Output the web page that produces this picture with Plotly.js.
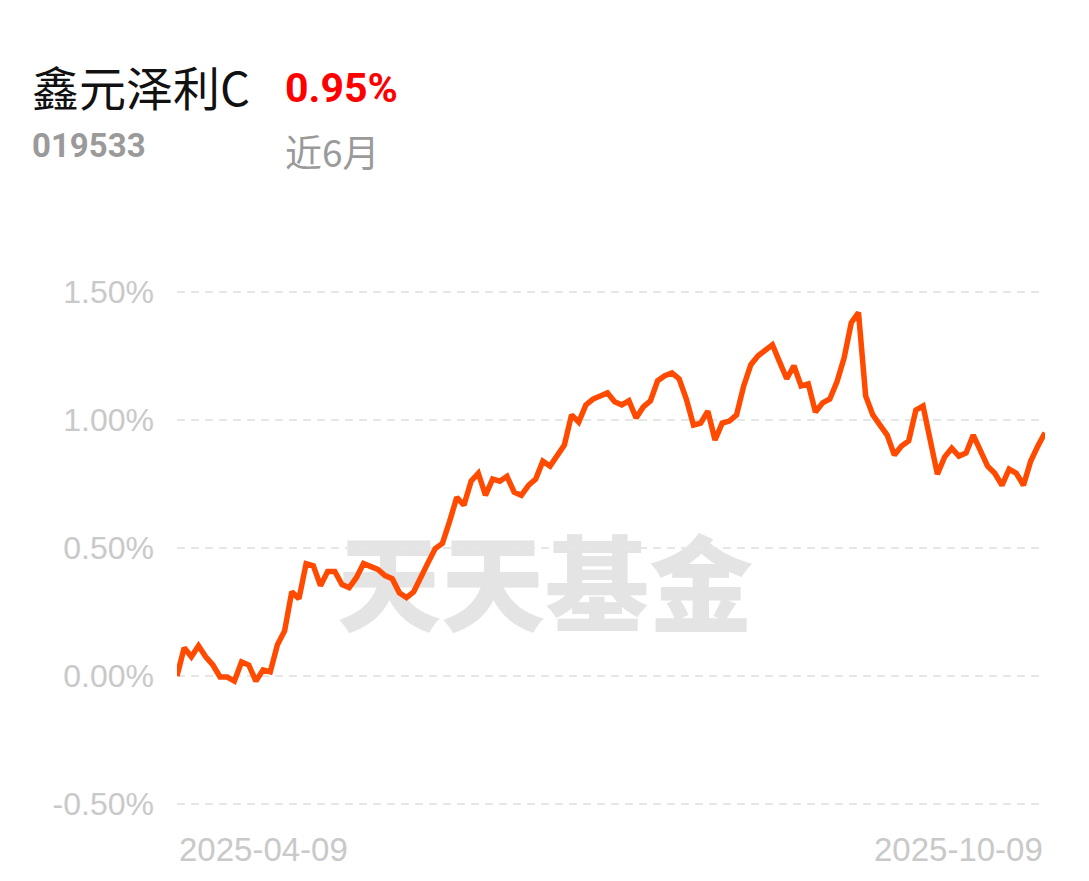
<!DOCTYPE html>
<html>
<head>
<meta charset="utf-8">
<script src="https://cdn.plot.ly/plotly-3.0.1.min.js"></script>
<style>
  html, body { margin: 0; padding: 0; background: #ffffff; }
  #chart { width: 1089px; height: 881px; }
</style>
</head>
<body>
<div id="chart"></div>
<script>
// ---- data ----
const fundName = "鑫元泽利C";
const fundCode = "019533";
const periodLabel = "近6月";
const periodReturn = "0.95%";
const startDate = "2025-04-09";
const endDate = "2025-10-09";
const watermark = "天天基金";

// cumulative return (%) per trading day
const returns = [
  0.00, 0.110, 0.075, 0.118, 0.075, 0.043, -0.004, -0.004, -0.020, 0.055,
  0.043, -0.020, 0.024, 0.016, 0.122, 0.176, 0.329, 0.302, 0.439, 0.431,
  0.353, 0.408, 0.408, 0.357, 0.345, 0.384, 0.439, 0.427, 0.416, 0.392,
  0.380, 0.325, 0.306, 0.329, 0.392, 0.443, 0.498, 0.518, 0.604, 0.698,
  0.667, 0.761, 0.792, 0.706, 0.769, 0.761, 0.780, 0.718, 0.706, 0.745,
  0.769, 0.839, 0.820, 0.859, 0.902, 1.020, 0.992, 1.059, 1.082, 1.094,
  1.106, 1.071, 1.059, 1.075, 1.008, 1.051, 1.075, 1.153, 1.173, 1.184,
  1.161, 1.082, 0.980, 0.988, 1.035, 0.922, 0.988, 0.996, 1.020, 1.133,
  1.216, 1.251, 1.271, 1.294, 1.227, 1.161, 1.212, 1.133, 1.141, 1.031,
  1.067, 1.082, 1.149, 1.243, 1.380, 1.420, 1.094, 1.020, 0.980, 0.941,
  0.863, 0.898, 0.918, 1.039, 1.055, 0.922, 0.788, 0.855, 0.890, 0.859,
  0.871, 0.941, 0.882, 0.820, 0.792, 0.745, 0.808, 0.792, 0.745, 0.839,
  0.898, 0.950
];
const yTickVals = [-0.5, 0, 0.5, 1.0, 1.5];
const yTickText = ["-0.50%", "0.00%", "0.50%", "1.00%", "1.50%"];

const xIdx = returns.map((_, i) => i);

// ---- geometry helpers (page pixels -> paper coords) ----
const W = 1089, H = 881;
const L = 177, R = 44, T = 225, B = 61;
const pw = W - L - R, ph = H - T - B;
const px = x => (x - L) / pw;
const py = y => (H - B - y) / ph;
const zeroPx = 676, pxPerPct = 256;

const trace = {
  x: xIdx,
  y: returns,
  type: "scatter",
  mode: "lines",
  line: { color: "#ff4a00", width: 5.5, shape: "linear" },
  hoverinfo: "skip"
};

const tickFont = { family: "Liberation Sans, Arial, sans-serif", size: 32, color: "#c9c9c9" };

const layout = {
  width: W, height: H,
  margin: { l: L, r: R, t: T, b: B, pad: 0 },
  paper_bgcolor: "#ffffff",
  plot_bgcolor: "#ffffff",
  showlegend: false,
  xaxis: {
    range: [0, returns.length - 1],
    showgrid: false, zeroline: false, showline: false,
    showticklabels: false, ticks: "", fixedrange: true
  },
  yaxis: {
    range: [(zeroPx - (H - B)) / pxPerPct, (zeroPx - T) / pxPerPct],
    tickvals: yTickVals,
    ticktext: yTickText,
    tickfont: tickFont,
    ticks: "",
    ticklabelstandoff: 22,
    showgrid: true,
    gridcolor: "#e6e6e6",
    gridwidth: 2,
    griddash: "8px,6px",
    zeroline: false, showline: false, fixedrange: true
  },
  shapes: [{
    type: "rect", xref: "paper", yref: "paper",
    x0: px(330), x1: px(760), y0: py(650), y1: py(540),
    layer: "below",
    line: { width: 0 }, fillcolor: "rgba(0,0,0,0)",
    label: {
      text: watermark,
      textposition: "middle center",
      font: { family: "Noto Sans CJK SC, sans-serif", size: 104, color: "#e4e4e4", weight: 900 }
    }
  }],
  annotations: [
    { text: fundName, xref: "paper", yref: "paper", x: px(30), y: py(86), xanchor: "left", yanchor: "middle",
      showarrow: false, font: { family: "Noto Sans CJK SC, sans-serif", size: 47, color: "#111111" } },
    { text: "<b>" + periodReturn + "</b>", xref: "paper", yref: "paper", x: px(283), y: py(88), xanchor: "left", yanchor: "middle",
      showarrow: false, font: { family: "Roboto, sans-serif", size: 41, color: "#ff0000" } },
    { text: "<b>" + fundCode + "</b>", xref: "paper", yref: "paper", x: px(30), y: py(145), xanchor: "left", yanchor: "middle",
      showarrow: false, font: { family: "Roboto, sans-serif", size: 33, color: "#9a9a9a" } },
    { text: periodLabel, xref: "paper", yref: "paper", x: px(283), y: py(151), xanchor: "left", yanchor: "middle",
      showarrow: false, font: { family: "Noto Sans CJK SC, sans-serif", size: 37, color: "#9a9a9a" } },
    { text: startDate, xref: "paper", yref: "paper", x: 0, y: py(849), xanchor: "left", yanchor: "middle",
      showarrow: false, font: Object.assign({}, tickFont, { size: 33 }) },
    { text: endDate, xref: "paper", yref: "paper", x: px(1045), y: py(849), xanchor: "right", yanchor: "middle",
      showarrow: false, font: Object.assign({}, tickFont, { size: 33 }) }
  ]
};

Plotly.newPlot("chart", [trace], layout, { staticPlot: true, displayModeBar: false });
</script>
</body>
</html>
